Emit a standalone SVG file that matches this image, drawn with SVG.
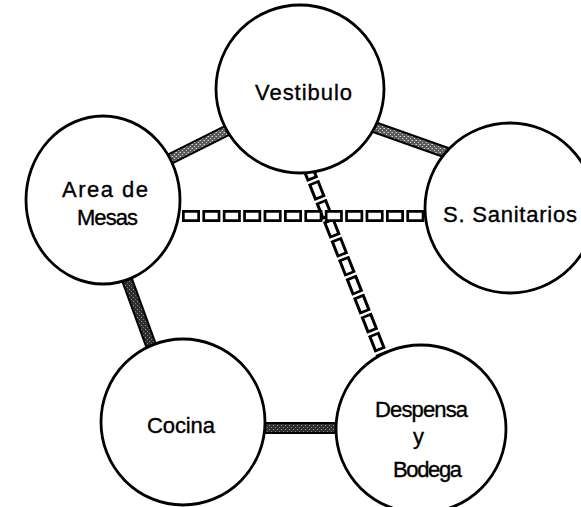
<svg xmlns="http://www.w3.org/2000/svg" width="581" height="507" viewBox="0 0 581 507">
  <style>
    .node { fill: #ffffff; stroke: #000000; stroke-width: 2.8; }
    .lbl { font-family: "Liberation Sans", Arial, sans-serif; font-size: 22px; fill: #000000; stroke: #000000; stroke-width: 0.35; text-anchor: middle; }
    .band-out { stroke: #000000; stroke-width: 12; fill: none; stroke-linecap: butt; }
    .band-in-light { stroke: url(#stipLight); stroke-width: 8; fill: none; stroke-linecap: butt; }
    .band-in-dark { stroke: url(#stipDark); stroke-width: 8; fill: none; stroke-linecap: butt; }
    .dash-out { stroke: #000000; fill: none; stroke-dasharray: 18 2.4; }
    .dash-in { stroke: #ffffff; fill: none; stroke-dasharray: 12.6 7.8; stroke-dashoffset: 17.7; }
  </style>
  <defs>
    <pattern id="stipLight" width="4" height="4" patternUnits="userSpaceOnUse">
      <rect width="4" height="4" fill="#5a5a5a"/>
      <rect x="0" y="0" width="1" height="1" fill="#d0d0d0"/>
      <rect x="2" y="2" width="1" height="1" fill="#d0d0d0"/>
      <rect x="3" y="0" width="1" height="1" fill="#9a9a9a"/>
    </pattern>
    <pattern id="stipDark" width="4" height="4" patternUnits="userSpaceOnUse">
      <rect width="4" height="4" fill="#2e2e2e"/>
      <rect x="1" y="1" width="1" height="1" fill="#9a9a9a"/>
      <rect x="3" y="3" width="1" height="1" fill="#7a7a7a"/>
    </pattern>
  </defs>
  <rect x="0" y="0" width="581" height="507" fill="#ffffff"/>
  <g id="connectors">
    <!-- Vestibulo - Area de Mesas -->
    <line class="band-out" x1="140" y1="174" x2="250" y2="119"/>
    <line class="band-in-light" x1="140" y1="174" x2="250" y2="119"/>
    <!-- Vestibulo - S. Sanitarios -->
    <line class="band-out" x1="340" y1="115" x2="470" y2="161"/>
    <line class="band-in-light" x1="340" y1="115" x2="470" y2="161"/>
    <!-- Area de Mesas - Cocina -->
    <line class="band-out" x1="118" y1="255" x2="160" y2="370"/>
    <line class="band-in-dark" x1="118" y1="255" x2="160" y2="370"/>
    <!-- Cocina - Despensa -->
    <line class="band-out" x1="250" y1="428" x2="350" y2="428"/>
    <line class="band-in-dark" x1="250" y1="428" x2="350" y2="428"/>
    <!-- Vestibulo - Despensa (dashed boxes) -->
    <line class="dash-out" style="stroke-width:12" x1="306" y1="163" x2="384" y2="360"/>
    <line class="dash-in" style="stroke-width:6" x1="306" y1="163" x2="384" y2="360"/>
    <!-- Area de Mesas - S. Sanitarios (dashed boxes) -->
    <line class="dash-out" style="stroke-width:12" x1="182" y1="216" x2="427" y2="216"/>
    <line class="dash-in" style="stroke-width:6.5" x1="182" y1="216" x2="427" y2="216"/>
  </g>
  <g id="vestibulo">
    <ellipse class="node" cx="300" cy="89" rx="84" ry="84"/>
    <text class="lbl" x="303.5" y="100" textLength="97" lengthAdjust="spacing">Vestibulo</text>
  </g>
  <g id="area-de-mesas">
    <ellipse class="node" cx="103" cy="200" rx="77" ry="84"/>
    <text class="lbl" x="105" y="197" textLength="86" lengthAdjust="spacing">Area de</text>
    <text class="lbl" x="107.5" y="225" textLength="61" lengthAdjust="spacing">Mesas</text>
  </g>
  <g id="s-sanitarios">
    <ellipse class="node" cx="510" cy="208" rx="85" ry="85"/>
    <text class="lbl" x="510" y="222" textLength="134" lengthAdjust="spacing">S. Sanitarios</text>
  </g>
  <g id="cocina">
    <ellipse class="node" cx="183" cy="422" rx="82" ry="83"/>
    <text class="lbl" x="181" y="433" textLength="68" lengthAdjust="spacing">Cocina</text>
  </g>
  <g id="despensa-y-bodega">
    <ellipse class="node" cx="421" cy="429" rx="85" ry="84"/>
    <text class="lbl" x="421.5" y="417" textLength="93" lengthAdjust="spacing">Despensa</text>
    <text class="lbl" x="418.5" y="444">y</text>
    <text class="lbl" x="427.5" y="477" textLength="69" lengthAdjust="spacing">Bodega</text>
  </g>
</svg>
